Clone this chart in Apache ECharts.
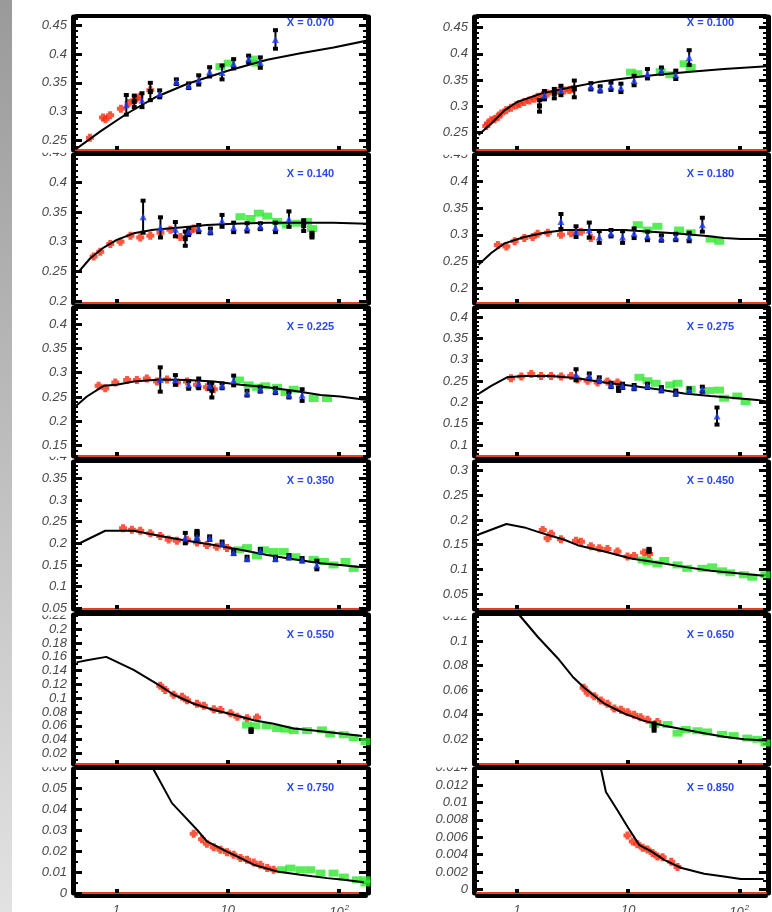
<!DOCTYPE html>
<html>
<head>
<meta charset="utf-8">
<script src="https://cdn.jsdelivr.net/npm/echarts@6/dist/echarts.min.js"></script>
<style>
  html, body { margin: 0; padding: 0; background: #fff; }
  #chart { width: 772px; height: 912px; }
</style>
</head>
<body>
<div id="chart"></div>
<script>
// ---- Q^2 axis ticks (log scale) ----
const q2Ticks = [1, 10, 100];

// ---- panel x values ----
const xBins = ['0.070', '0.100', '0.140', '0.180', '0.225', '0.275',
               '0.350', '0.450', '0.550', '0.650', '0.750', '0.850'];

// ---- y tick labels per panel ----
const yt070 = [0.25, 0.3, 0.35, 0.4, 0.45];
const yt100 = [0.25, 0.3, 0.35, 0.4, 0.45];
const yt140 = [0.2, 0.25, 0.3, 0.35, 0.4];
const yt180 = [0.2, 0.25, 0.3, 0.35, 0.4];
const yt225 = [0.15, 0.2, 0.25, 0.3, 0.35, 0.4];
const yt275 = [0.1, 0.15, 0.2, 0.25, 0.3, 0.35, 0.4];
const yt350 = [0.05, 0.1, 0.15, 0.2, 0.25, 0.3, 0.35];
const yt450 = [0.05, 0.1, 0.15, 0.2, 0.25, 0.3];
const yt550 = [0.02, 0.04, 0.06, 0.08, 0.1, 0.12, 0.14, 0.16, 0.18, 0.2];
const yt650 = [0.02, 0.04, 0.06, 0.08, 0.1];
const yt750 = [0, 0.01, 0.02, 0.03, 0.04, 0.05];
const yt850 = [0, 0.002, 0.004, 0.006, 0.008, 0.01, 0.012];

// top tick labels that sit half hidden under the panel above: [panel index, value]
const clippedTicks = [[2, 0.45], [3, 0.45], [6, 0.4], [8, 0.22], [9, 0.12], [10, 0.06], [11, 0.014]];

// ---- y extents per panel ----
const ext070 = [0.2339, 0.4638];
const ext100 = [0.2162, 0.4705];
const ext140 = [0.1966, 0.446];
const ext180 = [0.1724, 0.4495];
const ext225 = [0.1288, 0.4329];
const ext275 = [0.0742, 0.4218];
const ext350 = [0.0484, 0.3876];
const ext450 = [0.0196, 0.3176];
const ext550 = [0.0045, 0.2208];
const ext650 = [-0.0001, 0.1212];
const ext750 = [0, 0.0592];
const ext850 = [-0.0004, 0.01384];

// ---- x = 0.070 ----
const curve070 = [[0.43,0.235],[0.72,0.266],[1.25,0.297],[2.3,0.326],[4.3,0.348],[10,0.371],[22.6,0.39],[45,0.401],[89,0.411],[178,0.423]];
const red070 = [[0.58,0.255],[0.76,0.29],[0.8,0.287],[0.88,0.294],[1.1,0.305],[1.29,0.315],[1.45,0.32],[1.51,0.323],[1.62,0.326],[2.02,0.337]];
const tri070 = [[1.23,0.312,0.017],[1.7,0.32,0.012],[2.45,0.331,0.006],[3.46,0.352,0.004],[4.46,0.345,0.004],[5.49,0.355,0.008],[6.88,0.369,0.008],[8.89,0.368,0.012],[11.3,0.383,0.008],[15.4,0.391,0.006],[19.6,0.385,0.009],[26.8,0.425,0.016]];
const blk070 = [[2.02,0.335,0.015],[1.45,0.318,0.01]];
const green070 = [[8.6,0.378],[10.2,0.384],[16.6,0.391],[18.1,0.384]];

// ---- x = 0.100 ----
const curve100 = [[0.449,0.245],[0.584,0.267],[0.77,0.292],[1,0.308],[1.64,0.324],[3.06,0.336],[5.3,0.346],[10,0.354],[18.3,0.36],[36.5,0.366],[72.8,0.371],[199,0.377]];
const red100 = [[0.527,0.262],[0.545,0.267],[0.584,0.273],[0.626,0.275],[0.671,0.28],[0.718,0.286],[0.796,0.292],[0.88,0.297],[0.98,0.302],[1.05,0.304],[1.16,0.308],[1.29,0.311],[1.43,0.314],[1.53,0.318],[1.7,0.321],[1.88,0.324],[2.16,0.327],[2.4,0.329],[2.66,0.33],[2.95,0.331],[3.16,0.333]];
const tri100 = [[1.76,0.321,0.008],[2.48,0.33,0.009],[4.61,0.338,0.006],[5.59,0.333,0.005],[6.99,0.338,0.007],[8.6,0.335,0.008],[11.3,0.349,0.009],[14.9,0.362,0.009],[19.9,0.368,0.006],[26.8,0.36,0.008],[35.4,0.393,0.014]];
const blk100 = [[1.59,0.3005,0.011],[2.16,0.324,0.009],[3.27,0.333,0.016]];
const green100 = [[10.6,0.365],[12.1,0.362],[19.6,0.366],[23.9,0.36],[32.2,0.381],[36.5,0.374]];

// ---- x = 0.140 ----
const curve140 = [[0.459,0.249],[0.584,0.272],[0.77,0.29],[1.01,0.303],[1.43,0.314],[2.16,0.32],[3.76,0.324],[6.5,0.328],[11.3,0.33],[22.6,0.332],[45,0.332],[89,0.332],[178,0.33]];
const red140 = [[0.626,0.275],[0.718,0.283],[0.883,0.296],[1.09,0.3],[1.34,0.31],[1.64,0.307],[2.02,0.31],[2.49,0.315],[3.06,0.32],[3.76,0.308],[4.61,0.318],[4.95,0.322]];
const tri140 = [[1.74,0.342,0.027],[2.49,0.324,0.017],[3.39,0.321,0.012],[4.46,0.317,0.006],[5.49,0.322,0.006],[6.99,0.318,0.004],[8.89,0.335,0.01],[11.3,0.324,0.008],[14.9,0.324,0.007],[19.6,0.326,0.005],[26.8,0.324,0.008],[35.4,0.338,0.013]];
const blk140 = [[4.16,0.305,0.012],[48,0.327,0.009],[57,0.311,0.004]];
const green140 = [[13,0.342],[16,0.339],[19,0.348],[22.6,0.343],[27.7,0.334],[34,0.328],[41.9,0.331],[51.5,0.334],[57,0.322]];

// ---- x = 0.180 ----
const curve180 = [[0.449,0.244],[0.584,0.266],[0.77,0.284],[1.16,0.296],[1.76,0.304],[2.66,0.309],[4.61,0.309],[9.2,0.309],[16,0.306],[25.8,0.303],[51.4,0.298],[72.8,0.294],[103,0.292],[199,0.292]];
const red180 = [[0.67,0.281],[0.8,0.278],[0.95,0.288],[1.16,0.294],[1.38,0.296],[1.53,0.302],[1.89,0.304],[2.48,0.3],[3.06,0.303],[3.76,0.306],[4.61,0.294]];
const tri180 = [[2.48,0.325,0.014],[3.39,0.306,0.01],[4.46,0.309,0.014],[5.49,0.296,0.011],[7,0.303,0.006],[8.9,0.296,0.011],[11.3,0.303,0.009],[14.9,0.298,0.008],[19.9,0.294,0.005],[26.8,0.296,0.006],[35.4,0.296,0.008],[46.5,0.319,0.013]];
const blk180 = [];
const green180 = [[12.2,0.319],[14.9,0.309],[18.3,0.316],[28.7,0.309],[36.5,0.304],[55.2,0.292],[66,0.288]];

// ---- x = 0.225 ----
const curve225 = [[0.437,0.232],[0.545,0.251],[0.77,0.273],[1.01,0.275],[1.43,0.282],[2.48,0.286],[4.31,0.285],[7.5,0.282],[13,0.275],[22.6,0.27],[39,0.263],[68,0.254],[102,0.251],[178,0.244]];
const red225 = [[0.694,0.273],[0.796,0.268],[0.98,0.28],[1.25,0.285],[1.53,0.285],[1.88,0.288],[2.32,0.282],[2.85,0.286],[3.5,0.28],[4.31,0.282],[5.3,0.275],[6.5,0.27],[7.5,0.266]];
const tri225 = [[2.48,0.286,0.025],[3.39,0.285,0.01],[4.46,0.275,0.008],[5.49,0.278,0.01],[6.88,0.273,0.006],[8.9,0.273,0.005],[11.3,0.284,0.01],[14.9,0.258,0.005],[19.6,0.266,0.005],[26.8,0.263,0.005],[35.4,0.254,0.005],[46.5,0.254,0.012]];
const blk225 = [[7.2,0.264,0.015]];
const green225 = [[12.6,0.285],[15.4,0.275],[18.3,0.27],[21.7,0.273],[27.7,0.27],[33,0.259],[39.1,0.266],[59,0.247],[77.7,0.247]];

// ---- x = 0.275 ----
const curve275 = [[0.449,0.22],[0.584,0.239],[0.81,0.259],[1.16,0.262],[2.02,0.262],[3.5,0.257],[6.1,0.247],[10.6,0.239],[18.3,0.231],[31.9,0.221],[55.2,0.215],[96,0.21],[145,0.206],[199,0.2]];
const red275 = [[0.88,0.257],[1.09,0.261],[1.34,0.267],[1.64,0.262],[2.02,0.262],[2.49,0.261],[3.06,0.262],[3.5,0.254],[4.31,0.251],[5.3,0.247],[6.5,0.249],[8,0.247]];
const tri275 = [[3.39,0.265,0.013],[4.46,0.262,0.006],[5.49,0.254,0.005],[7,0.241,0.005],[8.9,0.239,0.005],[11.3,0.236,0.005],[14.9,0.239,0.005],[19.9,0.231,0.005],[26.8,0.223,0.005],[35.4,0.228,0.005],[46.5,0.231,0.006],[63,0.168,0.02]];
const blk275 = [[8.2,0.231,0.004]];
const green275 = [[12.6,0.259],[14.9,0.251],[17.7,0.245],[23.9,0.241],[27.8,0.245],[36.5,0.231],[53.4,0.228],[65.7,0.229],[73,0.21],[96,0.215],[114,0.202]];

// ---- x = 0.350 ----
const curve350 = [[0.459,0.199],[0.796,0.229],[1.43,0.229],[2.48,0.217],[4.31,0.206],[7.5,0.196],[13,0.185],[22.6,0.173],[39,0.163],[68,0.154],[102,0.15],[144,0.146],[174,0.145]];
const red350 = [[1.15,0.235],[1.38,0.231],[1.64,0.229],[2.02,0.223],[2.48,0.217],[2.95,0.209],[3.5,0.206],[4.31,0.208],[5.3,0.202],[6.5,0.196],[7.98,0.192],[9.85,0.189]];
const tri350 = [[4.16,0.212,0.012],[5.3,0.214,0.005],[6.88,0.212,0.004],[8.9,0.2,0.004],[11.3,0.179,0.004],[14.9,0.165,0.004],[19.6,0.183,0.004],[26.8,0.165,0.004],[35.4,0.169,0.004],[46.5,0.162,0.004],[63,0.15,0.01]];
const blk350 = [[5.3,0.2246,0.004]];
const green350 = [[12.6,0.185],[14.9,0.19],[18.3,0.171],[21.1,0.185],[25.8,0.181],[31.8,0.181],[40.5,0.169],[59,0.163],[73,0.158],[89,0.15],[114,0.158],[135,0.142]];

// ---- x = 0.450 ----
const curve450 = [[0.443,0.17],[0.8,0.192],[1.16,0.185],[1.64,0.174],[2.66,0.16],[3.5,0.149],[6.1,0.136],[10.6,0.122],[18.3,0.114],[31.9,0.105],[55.2,0.097],[96,0.092],[166,0.087]];
const red450 = [[1.7,0.18],[1.88,0.163],[2.02,0.172],[2.48,0.161],[3.39,0.158],[3.76,0.156],[4.61,0.147],[5.49,0.143],[6.5,0.141],[8,0.136],[9.85,0.126],[11.3,0.127],[13.9,0.134],[15.4,0.131]];
const tri450 = [];
const blk450 = [[15.4,0.1385,0.003]];
const green450 = [[13.5,0.119],[15,0.116],[18.3,0.111],[21.1,0.118],[27.8,0.109],[34,0.102],[46.5,0.102],[57,0.105],[70,0.097],[83,0.093],[110,0.089],[131,0.084],[172,0.089]];

// ---- x = 0.550 ----
const curve550 = [[0.44,0.152],[0.545,0.155],[0.813,0.16],[1.43,0.141],[2.48,0.118],[3.27,0.105],[4.95,0.092],[7.5,0.083],[11.3,0.076],[17.1,0.068],[25.8,0.063],[39,0.056],[59,0.053],[89,0.05],[161,0.045]];
const red550 = [[2.48,0.118],[2.75,0.112],[3.27,0.105],[3.89,0.102],[4.31,0.097],[5.3,0.092],[6.1,0.089],[7.5,0.084],[8.6,0.083],[10.6,0.078],[12.2,0.073],[14.9,0.071],[18.3,0.072]];
const tri550 = [];
const blk550 = [[16.2,0.053,0.002]];
const green550 = [[14.9,0.061],[17.7,0.06],[22.4,0.06],[27.7,0.056],[33,0.055],[39.1,0.053],[51.5,0.053],[70,0.054],[83,0.048],[110,0.047],[135,0.043],[172,0.037]];

// ---- x = 0.650 ----
const curve650 = [[1.05,0.121],[1.53,0.1035],[2.32,0.086],[3.16,0.071],[4.02,0.062],[6.1,0.049],[9.2,0.041],[13.9,0.035],[21.1,0.031],[31.9,0.028],[48.3,0.025],[72.8,0.022],[110,0.02],[178,0.019]];
const red650 = [[3.97,0.062],[4.31,0.058],[4.95,0.055],[5.67,0.0515],[6.5,0.049],[7.5,0.045],[8.6,0.044],[9.85,0.042],[11.3,0.04],[12.9,0.038],[14.9,0.036],[18.3,0.034]];
const tri650 = [];
const blk650 = [[17.1,0.03,0.003]];
const green650 = [[17.1,0.032],[22.6,0.032],[27.8,0.025],[33,0.028],[41.9,0.027],[51.4,0.026],[70,0.024],[89,0.023],[118,0.021],[145,0.02],[172,0.017]];

// ---- x = 0.750 ----
const curve750 = [[2.16,0.059],[3.16,0.0429],[3.97,0.0373],[5.3,0.0302],[6.5,0.0246],[9.85,0.0198],[13,0.0167],[17.1,0.0135],[27.7,0.0103],[44.8,0.0087],[78,0.0071],[110,0.0063],[166,0.0051]];
const red750 = [[4.95,0.0283],[5.87,0.0257],[6.5,0.0235],[7.5,0.0219],[8.6,0.0206],[9.85,0.0194],[11.3,0.0183],[13,0.0167],[14.9,0.0159],[17.1,0.0146],[19.6,0.0135],[22.6,0.0119],[25.8,0.0111]];
const tri750 = [];
const blk750 = [];
const green750 = [[30.7,0.0111],[36.5,0.0119],[44.8,0.0111],[55,0.0111],[68,0.0095],[89,0.0095],[110,0.0076],[144,0.0063],[172,0.0063],[172,0.0048]];

// ---- x = 0.850 ----
const curve850 = [[5.67,0.0139],[6.3,0.0112],[8,0.0091],[9.85,0.0072],[12.6,0.0051],[16,0.0044],[21.1,0.0034],[29.7,0.0025],[48.3,0.0018],[72.8,0.0015],[103,0.0012],[166,0.0012]];
const red850 = [[9.85,0.0062],[11,0.0055],[12.1,0.0052],[13.5,0.0048],[14.9,0.0046],[16.6,0.0042],[18.3,0.0038],[20.4,0.0037],[24.4,0.0032],[27.8,0.0026]];
const tri850 = [];
const blk850 = [];
const green850 = [];

// ---- assemble panels ----
const panels = [
  { curve: curve070, red: red070, tri: tri070, blk: blk070, green: green070, ext: ext070, ticks: yt070, minor: 0.01 },
  { curve: curve100, red: red100, tri: tri100, blk: blk100, green: green100, ext: ext100, ticks: yt100, minor: 0.01 },
  { curve: curve140, red: red140, tri: tri140, blk: blk140, green: green140, ext: ext140, ticks: yt140, minor: 0.01 },
  { curve: curve180, red: red180, tri: tri180, blk: blk180, green: green180, ext: ext180, ticks: yt180, minor: 0.01 },
  { curve: curve225, red: red225, tri: tri225, blk: blk225, green: green225, ext: ext225, ticks: yt225, minor: 0.01 },
  { curve: curve275, red: red275, tri: tri275, blk: blk275, green: green275, ext: ext275, ticks: yt275, minor: 0.01 },
  { curve: curve350, red: red350, tri: tri350, blk: blk350, green: green350, ext: ext350, ticks: yt350, minor: 0.01 },
  { curve: curve450, red: red450, tri: tri450, blk: blk450, green: green450, ext: ext450, ticks: yt450, minor: 0.01 },
  { curve: curve550, red: red550, tri: tri550, blk: blk550, green: green550, ext: ext550, ticks: yt550, minor: 0.01 },
  { curve: curve650, red: red650, tri: tri650, blk: blk650, green: green650, ext: ext650, ticks: yt650, minor: 0.004 },
  { curve: curve750, red: red750, tri: tri750, blk: blk750, green: green750, ext: ext750, ticks: yt750, minor: 0.005 },
  { curve: curve850, red: red850, tri: tri850, blk: blk850, green: green850, ext: ext850, ticks: yt850, minor: 0.001 }
];

// ---- layout ----
const Q2_MIN = 0.435, Q2_MAX = 174;
const ROWS = [[17, 133], [155, 148], [308, 148], [462, 147], [615, 149], [769, 124]];
const COLS = [[76, 290], [477, 289]];
const TAG_DY = [5.5, 19, 19, 19, 20, 19];
const Y_AXIS_OFFSET = 3, Y_LABEL_MARGIN = 6;

const LABEL_FONT = { color: '#4a4a4a', fontStyle: 'italic', fontSize: 13, fontFamily: '"Liberation Sans", Arial, sans-serif' };
// chunky cross used for the red points
const CROSS = 'path://M2,0H6V2H8V6H6V8H2V6H0V2H2Z';

function minorValues(ext, step) {
  const out = [];
  for (let k = Math.ceil(ext[0] / step - 1e-9); k * step <= ext[1] + 1e-12; k++) {
    out.push(+(k * step).toFixed(6));
  }
  return out;
}
function fmtY(v) { return String(+(+v).toFixed(5)); }

function renderErrorBar(params, api) {
  const q = api.value(0), v = api.value(1), e = api.value(2), mark = api.value(3);
  const hi = api.coord([q, v + e]);
  const lo = api.coord([q, v - e]);
  const mid = api.coord([q, v]);
  const children = [
    { type: 'line', shape: { x1: hi[0], y1: hi[1], x2: lo[0], y2: lo[1] }, style: { stroke: '#000', lineWidth: 2 } },
    { type: 'rect', shape: { x: hi[0] - 2.5, y: hi[1] - 2, width: 5, height: 4 }, style: { fill: '#000' } },
    { type: 'rect', shape: { x: lo[0] - 2.5, y: lo[1] - 2, width: 5, height: 4 }, style: { fill: '#000' } }
  ];
  if (mark) {
    children.push({ type: 'rect', shape: { x: mid[0] - 2.5, y: mid[1] - 2.5, width: 5, height: 5 }, style: { fill: '#000' } });
  }
  return { type: 'group', children };
}

const grid = [], xAxis = [], yAxis = [], series = [], graphic = [];

// gray strip on the left edge
graphic.push({
  type: 'rect', z: -10, silent: true,
  shape: { x: 0, y: 0, width: 12, height: 912 },
  style: { fill: new echarts.graphic.LinearGradient(0, 0, 0, 1, [
    { offset: 0, color: '#9a9a9a' }, { offset: 1, color: '#e2e2e2' }]) }
});

panels.forEach((p, g) => {
  const row = Math.floor(g / 2), col = g % 2;
  const [top, height] = ROWS[row];
  const [left, width] = COLS[col];
  // fixed pixel boxes: never shrink a grid to make room for its labels
  grid.push({ left, top, width, height, show: false, containLabel: false, outerBoundsMode: 'none' });

  const logBase = { type: 'log', logBase: 10, gridIndex: g, min: Q2_MIN, max: Q2_MAX, splitLine: { show: false } };
  // bottom axis (red) carrying the data
  xAxis.push(Object.assign({}, logBase, {
    position: 'bottom',
    axisLine: { show: true, onZero: false, lineStyle: { color: '#e8401c', width: 2 } },
    axisTick: { show: true, inside: true, length: 4, customValues: q2Ticks, lineStyle: { color: '#000', width: 4 } },
    axisLabel: {
      show: row === 5, customValues: q2Ticks, margin: 11,
      formatter: v => (v >= 99 ? '{b|10}{s|2}' : '{b|' + Math.round(v) + '}'),
      rich: {
        b: Object.assign({}, LABEL_FONT, { fontSize: 13 }),
        s: Object.assign({}, LABEL_FONT, { fontSize: 8, verticalAlign: 'top', padding: [0, 0, 8, 1] })
      }
    }
  }));
  // black frame below the red line
  xAxis.push(Object.assign({}, logBase, {
    position: 'bottom', offset: 3,
    axisLine: { show: true, onZero: false, lineStyle: { color: '#000', width: 4 } },
    axisTick: { show: false }, axisLabel: { show: false }
  }));
  // black frame on top
  xAxis.push(Object.assign({}, logBase, {
    position: 'top', offset: 1.5,
    axisLine: { show: true, onZero: false, lineStyle: { color: '#000', width: 4 } },
    axisTick: { show: false }, axisLabel: { show: false }
  }));

  const valBase = { type: 'value', gridIndex: g, min: p.ext[0], max: p.ext[1], splitLine: { show: false } };
  const minors = minorValues(p.ext, p.minor);
  yAxis.push(Object.assign({}, valBase, {
    position: 'left', offset: Y_AXIS_OFFSET,
    axisLine: { show: true, onZero: false, lineStyle: { color: '#000', width: 5 } },
    axisTick: { show: true, inside: true, length: 9, customValues: p.ticks, lineStyle: { color: '#000', width: 3 } },
    axisLabel: Object.assign({ show: true, customValues: p.ticks, margin: Y_LABEL_MARGIN, formatter: fmtY }, LABEL_FONT)
  }));
  yAxis.push(Object.assign({}, valBase, {
    position: 'left', offset: Y_AXIS_OFFSET,
    axisLine: { show: false },
    axisTick: { show: true, inside: true, length: 5, customValues: minors, lineStyle: { color: '#000', width: 2 } },
    axisLabel: { show: false }
  }));
  yAxis.push(Object.assign({}, valBase, {
    position: 'right', offset: 2,
    axisLine: { show: true, onZero: false, lineStyle: { color: '#000', width: 5 } },
    axisTick: { show: true, inside: true, length: 9, customValues: p.ticks, lineStyle: { color: '#000', width: 3 } },
    axisLabel: { show: false }
  }));
  yAxis.push(Object.assign({}, valBase, {
    position: 'right', offset: 2,
    axisLine: { show: false },
    axisTick: { show: true, inside: true, length: 5, customValues: minors, lineStyle: { color: '#000', width: 2 } },
    axisLabel: { show: false }
  }));

  const xi = 3 * g, yi = 4 * g;
  series.push({
    type: 'scatter', xAxisIndex: xi, yAxisIndex: yi, data: p.red, z: 2, silent: true,
    symbol: CROSS, symbolSize: 8, itemStyle: { color: '#ff2d0f' }
  });
  series.push({
    type: 'scatter', xAxisIndex: xi, yAxisIndex: yi, data: p.green, z: 2, silent: true,
    symbol: 'rect', symbolSize: [10, 7], itemStyle: { color: '#2ee82e' }
  });
  series.push({
    type: 'line', xAxisIndex: xi, yAxisIndex: yi, data: p.curve, z: 3, silent: true,
    showSymbol: false, symbol: 'none', clip: true,
    lineStyle: { color: '#000', width: 2 }
  });
  const bars = p.tri.map(d => [d[0], d[1], d[2], 0]).concat(p.blk.map(d => [d[0], d[1], d[2], 1]));
  series.push({
    type: 'custom', xAxisIndex: xi, yAxisIndex: yi, data: bars, z: 4, silent: true,
    encode: { x: 0, y: 1 }, renderItem: renderErrorBar
  });
  series.push({
    type: 'scatter', xAxisIndex: xi, yAxisIndex: yi, data: p.tri.map(d => [d[0], d[1]]), z: 5, silent: true,
    symbol: 'triangle', symbolSize: 7, itemStyle: { color: '#1f3dff' }
  });

  graphic.push({
    type: 'text', silent: true, z: 10,
    x: left + width - 55.5, y: top + TAG_DY[row],
    style: {
      text: 'X = ' + xBins[g], fill: '#2a48f0',
      font: 'bold 11px "Liberation Sans", Arial, sans-serif',
      align: 'center', verticalAlign: 'middle'
    }
  });
});

const chart = echarts.init(document.getElementById('chart'), null, { renderer: 'canvas' });
chart.setOption({
  animation: false,
  backgroundColor: '#fff',
  grid, xAxis, yAxis, series, graphic
});

// Top tick labels that fall just above a panel: placed through the panel's own
// y axis, with their upper half masked (the axis labels of the panel above stay on top).
const fragments = [];
clippedTicks.forEach(([g, v]) => {
  const col = g % 2;
  const y = chart.convertToPixel({ yAxisIndex: 4 * g }, v);
  const xRight = COLS[col][0] - Y_AXIS_OFFSET - Y_LABEL_MARGIN;
  fragments.push({
    type: 'text', silent: true, z: -6, x: xRight, y,
    style: {
      text: fmtY(v), fill: LABEL_FONT.color,
      font: 'italic 13px "Liberation Sans", Arial, sans-serif',
      align: 'right', verticalAlign: 'middle'
    }
  });
  fragments.push({
    type: 'rect', silent: true, z: -5,
    shape: { x: xRight - 45, y: y - 12, width: 47, height: 12 },
    style: { fill: '#fff' }
  });
});
chart.setOption({ graphic: graphic.concat(fragments) });
</script>
</body>
</html>
